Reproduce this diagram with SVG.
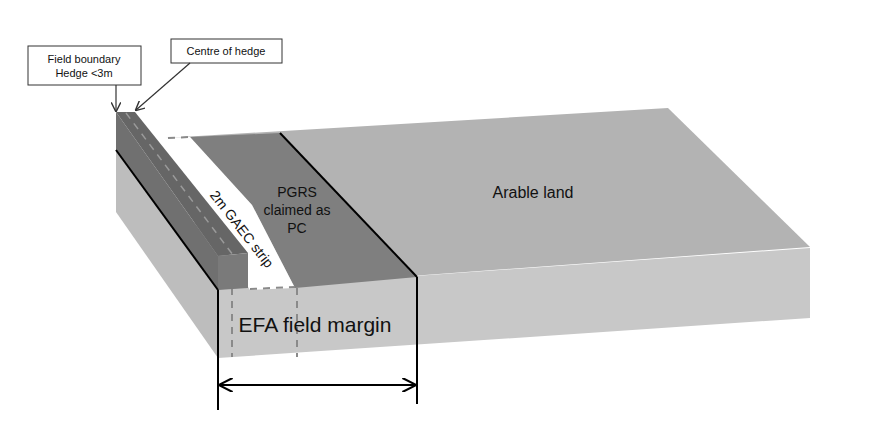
<svg xmlns="http://www.w3.org/2000/svg" width="874" height="445" viewBox="0 0 874 445">
<style>
text{font-family:"Liberation Sans",Arial,sans-serif;fill:#111}
.box{fill:#fff;stroke:#333;stroke-width:1}
.ln{stroke:#000;stroke-width:2;fill:none}
.dash{stroke:#8a8a8a;stroke-width:2;stroke-dasharray:7,6;fill:none}
</style>
<defs>
<marker id="ah" viewBox="0 0 10 10" refX="9" refY="5" markerWidth="8" markerHeight="8" orient="auto-start-reverse"><path d="M0,0 L10,5 L0,10" fill="none" stroke="#333" stroke-width="1.5"/></marker>
<marker id="ah2" viewBox="0 0 10 10" refX="9" refY="5" markerWidth="7" markerHeight="7" orient="auto-start-reverse"><path d="M0,0 L10,5 L0,10" fill="none" stroke="#000" stroke-width="1.5"/></marker>
</defs>
<rect width="874" height="445" fill="#fff"/>
<g id="slab">
<polygon points="116,150 218,290 218,358 116,212" fill="#bdbdbd"/>
<polygon points="218,290 810,248 810,318 218,358" fill="#c8c8c8"/>
<polygon points="165,138 668,108 810,247 218,290" fill="#b3b3b3"/>
<polygon points="190,137 280,133 417,277 295,288 252,205" fill="#7f7f7f"/>
<polygon points="150,138 190,137 252,205 295,288 250,290" fill="#fff"/>
<path d="M168,138 L190,137" class="dash"/>
<path d="M250,289 L295,287" class="dash"/>
<path d="M232,262 V357 M297,288 V357" class="dash" stroke-width="1.5"/>
</g>
<g id="hedge">
<polygon points="116,112 218,256 218,290 116,150" fill="#707070"/>
<polygon points="116,112 135,112 248,253 218,256" fill="#666"/>
<polygon points="218,256 248,253 248,288 218,290" fill="#7a7a7a"/>
<path d="M126,113 L233,255" stroke="#9a9a9a" stroke-width="1.5" stroke-dasharray="7,6"/>
<path d="M116,150 L218,290" class="ln"/>
</g>
<g id="labels">
<text x="297" y="197" font-size="14" text-anchor="middle" fill="#222">PGRS</text>
<text x="297" y="215" font-size="14" text-anchor="middle" fill="#222">claimed as</text>
<text x="297" y="233" font-size="14" text-anchor="middle" fill="#222">PC</text>
<text transform="translate(238,232) rotate(52)" font-size="14" text-anchor="middle">2m GAEC strip</text>
<text x="533" y="198" font-size="16" text-anchor="middle">Arable land</text>
<text x="315" y="332" font-size="21" text-anchor="middle">EFA field margin</text>
</g>
<g id="box1"><rect class="box" x="28" y="46" width="113" height="39"/>
<text x="84" y="63" font-size="11" text-anchor="middle">Field boundary</text>
<text x="84" y="77" font-size="11" text-anchor="middle">Hedge &lt;3m</text></g>
<g id="box2"><rect class="box" x="171" y="39" width="111" height="24"/>
<text x="226" y="55" font-size="11" text-anchor="middle">Centre of hedge</text></g>
<g id="connectors">
<path d="M116,85 V111" stroke="#333" stroke-width="1.2" marker-end="url(#ah)"/>
<path d="M190,63 L136,110" stroke="#333" stroke-width="1.2" marker-end="url(#ah)"/>
<path d="M280,133 L417,277" class="ln"/>
<path d="M218,290 V410 M417,277 V404" class="ln"/>
<path d="M220,385 H415" class="ln" marker-start="url(#ah2)" marker-end="url(#ah2)"/>
</g>
</svg>
